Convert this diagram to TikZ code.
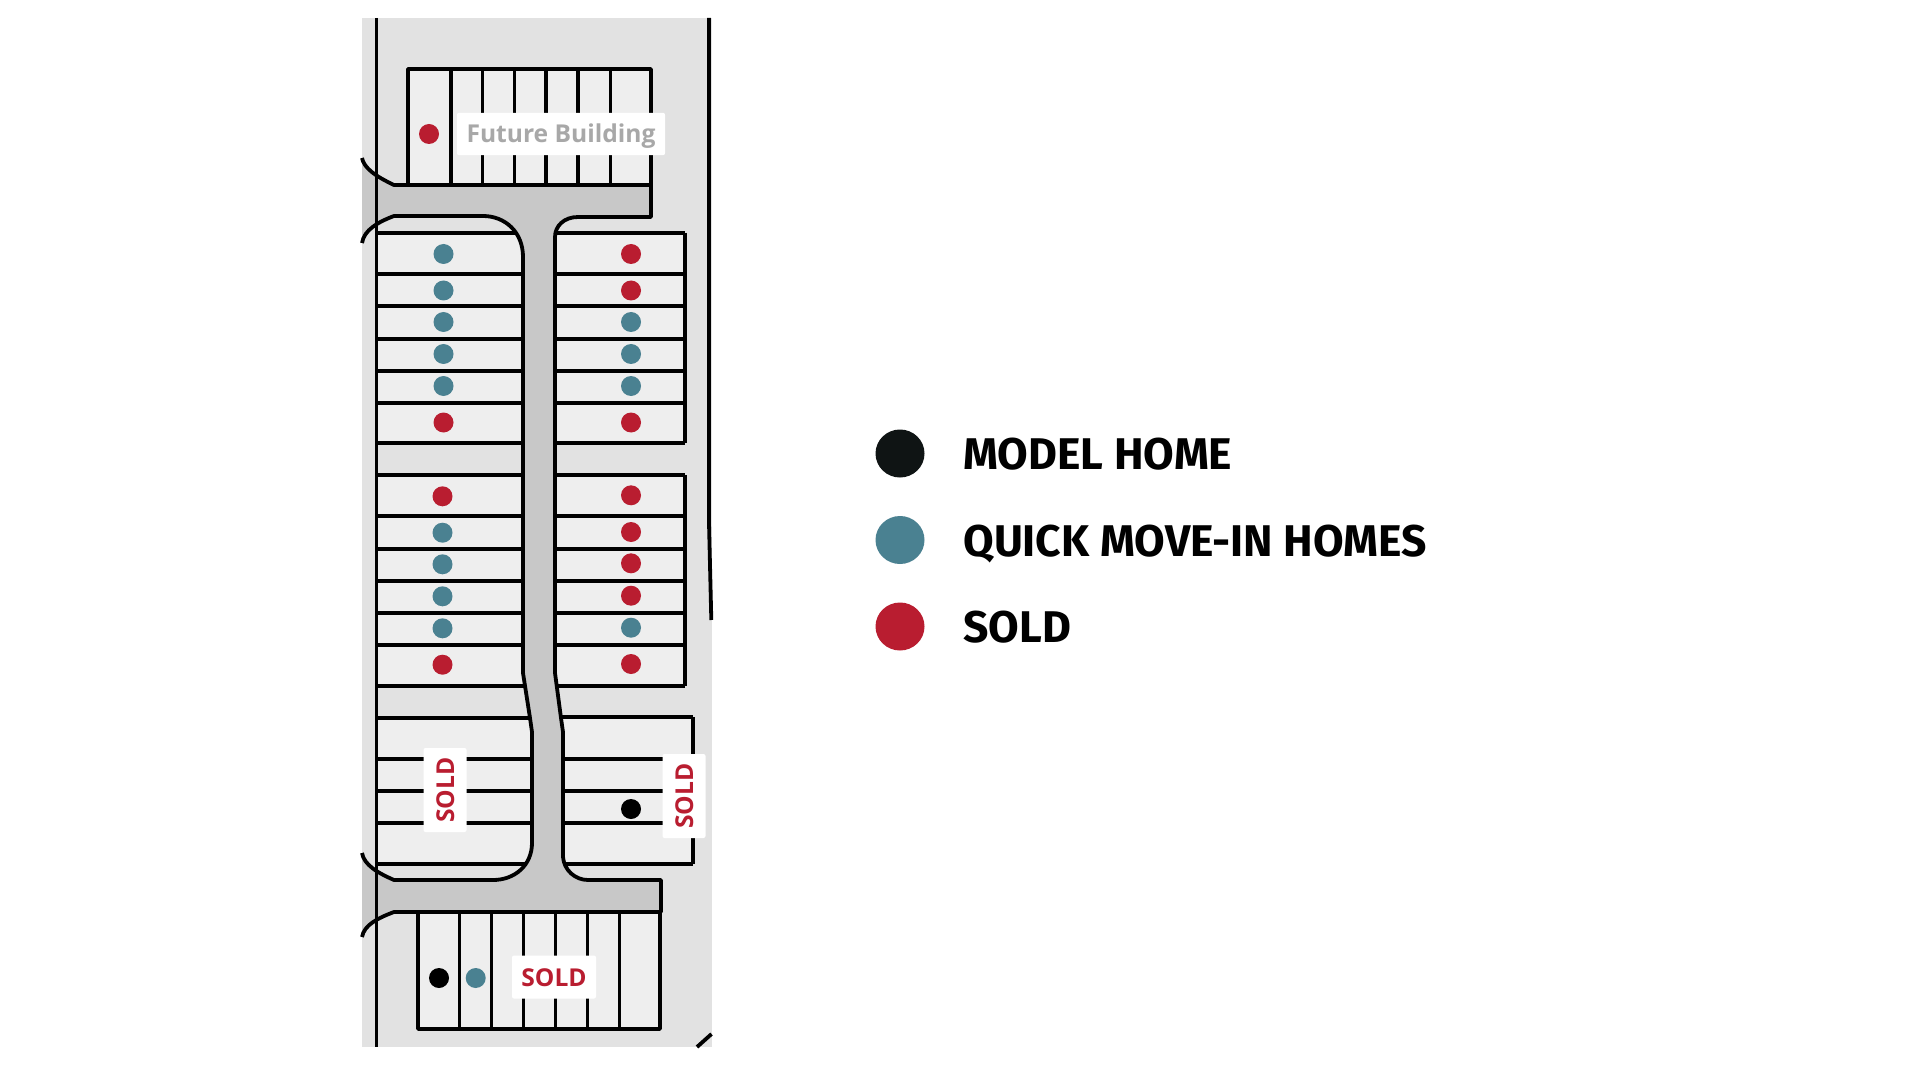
\documentclass[tikz,border=0pt]{standalone}
\usepackage{fontspec}
\setmainfont{Open Sans}
\newfontfamily\legendfont{Fira Sans}
\definecolor{sitebg}{HTML}{E2E2E2}
\definecolor{lotbg}{HTML}{EEEEEE}
\definecolor{roadbg}{HTML}{C8C8C8}
\definecolor{teal1}{HTML}{4A8191}
\definecolor{red1}{HTML}{B91D30}
\definecolor{black1}{HTML}{0F1414}
\definecolor{futuregray}{HTML}{A8A8A8}
\tikzset{
  plan/.style={draw=black,line width=1.9pt},
  lot/.style={fill=lotbg},
  dotbase/.style={circle,minimum size=10pt,inner sep=0pt,draw=none},
  tealdot/.style={dotbase,fill=teal1},
  reddot/.style={dotbase,fill=red1},
  blackdot/.style={dotbase,fill=black},
  tag/.style={fill=white,rounded corners=1pt,inner sep=0pt,text height=9pt,text depth=0pt},
  soldtag/.style={tag,text=red1,minimum width=42pt,minimum height=21.5pt,font=\bfseries\fontsize{12.3}{15}\selectfont},
  legdot/.style={ellipse,inner sep=0pt,minimum width=24.5pt,minimum height=24pt},
  legtext/.style={anchor=base west,inner sep=0pt,font=\legendfont\bfseries\fontsize{22.2}{26}\selectfont,text=black},
}
\usetikzlibrary{shapes.geometric}
\begin{document}
\begin{tikzpicture}[x=0.5pt,y=-0.5pt]
\path[use as bounding box,fill=white] (0,0) rectangle (1920,1080);
% site
\fill[sitebg] (362,18) rectangle (711.5,1047);
% lot fills
\fill[lot] (408,69) rectangle (651,185);
\fill[lot] (376,233) rectangle (523,443);
\fill[lot] (376,475) rectangle (523,686);
\fill[lot] (376,717) rectangle (532,864);
\fill[lot] (555,233) rectangle (685,443);
\fill[lot] (555,475) rectangle (685,686);
\fill[lot] (563,717) rectangle (693,864);
\fill[lot] (418,912) rectangle (660,1029);
% top block
\draw[plan,line join=round] (408,185) -- (408,69) -- (651,69) -- (651,185);
\foreach \x in {451,482.5,514.5,546,578,610.5} \draw[plan] (\x,69) -- (\x,185);
% left column
\foreach \y in {233,274,306,339,371,403,443,475,516,549,581,613,645,686,718,759,791,823,864}
  \draw[plan] (376,\y) -- (532,\y);
% right columns
\foreach \y in {233,274,306,339,371,403,443,475,516,549,581,613,645,686}
  \draw[plan] (555,\y) -- (685,\y);
\draw[plan] (685,233) -- (685,443);
\draw[plan] (685,475) -- (685,686);
\foreach \y in {717,759,791,823,864}
  \draw[plan] (560,\y) -- (693,\y);
\draw[plan] (693,717) -- (693,864);
% bottom block
\draw[plan,line join=round] (418,912) -- (418,1029) -- (660,1029) -- (660,912);
\foreach \x in {459.5,491.5,523.5,555.5,587.5,619.5} \draw[plan] (\x,912) -- (\x,1029);
% road
\fill[roadbg] (362,158) .. controls (364,168) and (375,176) .. (394,185) -- (651,185) -- (651,217) -- (578,217)
  .. controls (564,217) and (555,226) .. (555,237) -- (555,673) -- (561,718) -- (563,732) -- (563,857)
  .. controls (564,870) and (575,880) .. (588,880) -- (661,880) -- (661,912) -- (394,912)
  .. controls (378,918) and (364,925) .. (362,937) -- (362,853)
  .. controls (364,865) and (378,873) .. (394,880) -- (493,880)
  .. controls (515,880) and (532,865) .. (532,843) -- (532,732) -- (530,718) -- (523,673) -- (523,257)
  .. controls (523,232) and (505,216) .. (483,216) -- (394,216)
  .. controls (378,222) and (364,230) .. (362,243) -- cycle;
\draw[plan,line join=round] (362,158) .. controls (364,168) and (375,176) .. (394,185) -- (651,185) -- (651,217) -- (578,217)
  .. controls (564,217) and (555,226) .. (555,237) -- (555,673) -- (561,718) -- (563,732) -- (563,857)
  .. controls (564,870) and (575,880) .. (588,880) -- (661,880) -- (661,912) -- (394,912)
  .. controls (378,918) and (364,925) .. (362,937);
\draw[plan,line join=round] (362,853)
  .. controls (364,865) and (378,873) .. (394,880) -- (493,880)
  .. controls (515,880) and (532,865) .. (532,843) -- (532,732) -- (530,718) -- (523,673) -- (523,257)
  .. controls (523,232) and (505,216) .. (483,216) -- (394,216)
  .. controls (378,222) and (364,230) .. (362,243);
% site edges
\draw[plan] (376.5,18) -- (376.5,1047);
\draw[plan] (709,18) -- (709,523) -- (711.3,620);
\draw[plan] (697,1047) -- (711.5,1034);
% dots, left column
\node[tealdot] (a1) at (443.5,254) {};
\node[tealdot] (a2) at (443.5,290.5) {};
\node[tealdot] (a3) at (443.5,322) {};
\node[tealdot] (a4) at (443.5,354) {};
\node[tealdot] (a5) at (443.5,386) {};
\node[reddot] (a6) at (443.5,422.5) {};
\node[reddot] (b1) at (442.5,496.3) {};
\node[tealdot] (b2) at (442.5,532.7) {};
\node[tealdot] (b3) at (442.5,564.3) {};
\node[tealdot] (b4) at (442.5,596.3) {};
\node[tealdot] (b5) at (442.5,628.3) {};
\node[reddot] (b6) at (442.5,664.7) {};
% dots, right column
\node[reddot] (c1) at (631,254) {};
\node[reddot] (c2) at (631,290.5) {};
\node[tealdot] (c3) at (631,322) {};
\node[tealdot] (c4) at (631,354) {};
\node[tealdot] (c5) at (631,386) {};
\node[reddot] (c6) at (631,422.5) {};
\node[reddot] (d1) at (631,495.3) {};
\node[reddot] (d2) at (631,532) {};
\node[reddot] (d3) at (631,563.3) {};
\node[reddot] (d4) at (631,595.7) {};
\node[tealdot] (d5) at (631,627.7) {};
\node[reddot] (d6) at (631,664) {};
% other dots
\node[reddot] (e1) at (429,134) {};
\node[blackdot] (e2) at (631,809) {};
\node[blackdot] (e3) at (439,978) {};
\node[tealdot] (e4) at (475.7,978) {};
% labels
\node[tag,text=futuregray,minimum width=104pt,minimum height=21.2pt,font=\bfseries\fontsize{12.3}{15}\selectfont] (fb) at (561,134) {Future Building};
\node[soldtag,rotate=90] (s1) at (445,790) {SOLD};
\node[soldtag,rotate=90] (s2) at (684,796) {SOLD};
\node[soldtag] (s3) at (554,977) {SOLD};
% legend
\node[legdot,fill=black1] (l1) at (900,453.5) {};
\node[legdot,fill=teal1] (l2) at (900,540) {};
\node[legdot,fill=red1] (l3) at (900,626.5) {};
\node[legtext] (t1) at (963,469) {MODEL HOME};
\node[legtext] (t2) at (963,556) {QUICK MOVE-IN HOMES};
\node[legtext] (t3) at (963,642) {SOLD};
\end{tikzpicture}
\end{document}
